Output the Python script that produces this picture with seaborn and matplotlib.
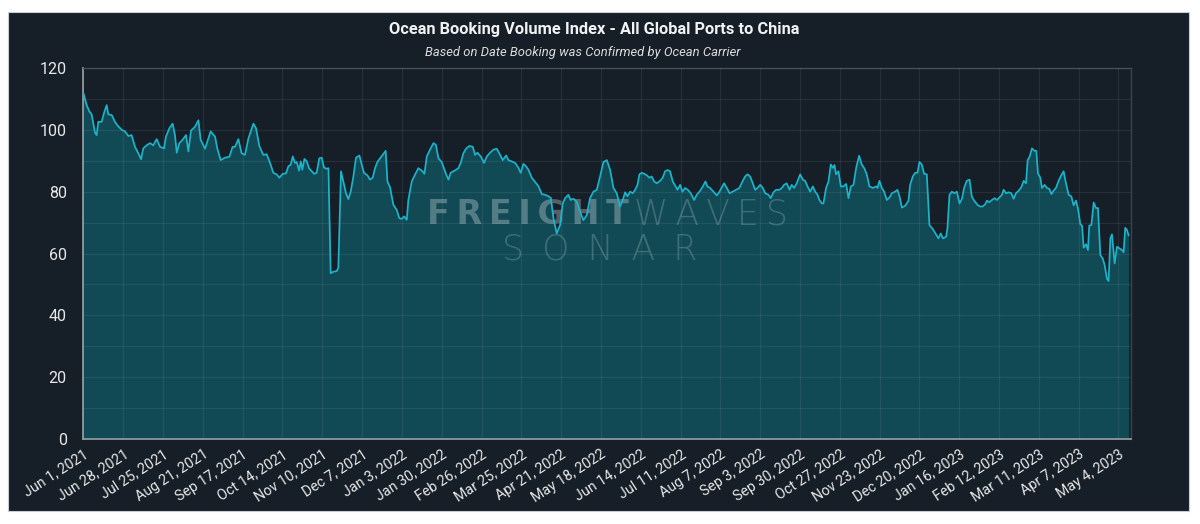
import pandas as pd
import seaborn as sns
import matplotlib.pyplot as plt
from matplotlib.patches import Rectangle
from matplotlib.ticker import MultipleLocator

# -------- data (days after Jun 1, 2021 -> index value) --------
start_date = "2021-06-01"

day_offsets = [
    0.0, 2.2, 4.0, 5.6, 7.9, 9.0, 10.1, 12.4, 14.0, 15.8, 16.9, 19.2, 21.4, 23.0, 26.0, 28.2,
    30.5, 32.7, 35.0, 37.3, 39.1, 40.6, 42.9, 45.2, 47.4, 49.7, 52.0, 54.7, 56.0, 58.3, 60.5,
    62.1, 63.3, 65.1, 67.3, 69.6, 71.2, 73.0, 75.7, 78.0, 79.5, 82.5, 86.3, 89.3, 90.8, 93.1,
    96.0, 99.0, 101.2, 102.8, 105.1, 107.3, 109.6, 111.9, 115.3, 117.1, 119.3, 122.0,
    124.3, 126.6, 128.8, 131.1, 132.9, 135.2, 137.4, 139.0, 140.6, 142.0, 143.5, 144.7, 146.3,
    147.4, 148.5, 149.9, 151.5, 153.0, 154.9, 156.4, 158.2, 160.0, 161.6, 163.2, 165.0, 166.2,
    167.7, 169.5, 171.8, 172.9, 174.7, 176.3, 178.1, 179.7, 181.3, 183.1, 184.9, 187.2, 188.8,
    190.3, 192.6, 194.4, 196.2, 197.8, 199.4, 201.2, 203.0, 205.0, 206.2, 208.0, 210.2, 212.5,
    214.3, 215.9, 217.5, 219.3, 220.4, 222.7, 225.0, 227.2, 229.5, 231.3, 232.9, 235.1, 237.4,
    239.0, 240.8, 243.0,
    246.0, 247.6, 249.1, 250.9, 252.8, 254.3, 255.9, 257.7, 259.5, 261.8, 264.1, 265.6, 267.2,
    269.5, 271.7, 273.6, 275.8, 278.1, 280.3, 282.1, 284.4, 286.7, 288.3, 290.5, 292.8, 295.0,
    296.6, 298.4, 300.2, 301.8, 304.1, 306.3, 308.6, 310.9, 313.1, 315.4, 317.0, 318.8, 321.0,
    323.3, 325.1, 326.7, 328.9, 330.5, 332.3, 334.6, 336.9, 339.1, 341.4, 343.6, 345.9, 348.2,
    350.4, 352.7, 355.0, 357.2, 359.5, 361.7, 364.0, 365.8,
    367.4, 369.0, 370.8, 372.6, 374.2, 375.8, 377.1, 378.7, 380.3, 382.1, 383.9, 385.5, 387.1,
    388.9, 391.1, 392.9, 394.5, 396.1, 397.9, 399.7, 401.3, 402.9, 404.7, 406.3, 408.1, 409.9,
    411.9, 414.2, 416.0, 418.3, 420.1, 421.9, 423.2, 425.0, 427.3, 429.6, 431.4, 433.0, 434.5,
    436.4, 438.2, 440.4, 442.7, 444.9, 447.2, 448.8, 450.4, 452.2, 454.0, 455.6, 457.2, 459.0,
    460.8, 462.4, 464.6, 466.2, 468.0, 469.8, 472.1, 473.7, 475.2, 477.0, 478.9, 480.4, 482.0,
    483.8, 486.1,
    487.9, 489.5, 491.1, 492.9, 494.7, 496.3, 497.9, 499.2, 500.8, 501.9, 503.7, 505.3, 506.9,
    508.3, 509.4, 510.5, 512.1, 513.7, 515.5, 517.3, 518.9, 520.5, 522.3, 524.1, 526.1, 527.9,
    529.7, 531.3, 533.1, 535.4, 537.7, 538.6, 539.9, 541.5, 543.1, 544.9, 546.7, 548.3, 550.5,
    552.1, 553.5, 555.1, 557.3, 559.6, 560.7, 562.5, 564.1, 565.7, 567.0, 568.6, 570.2, 572.0,
    573.8, 576.1, 578.3, 579.9, 581.5, 582.9, 585.1, 586.0, 587.4, 589.0, 590.6, 592.4, 594.2,
    595.8, 597.3, 599.1, 601.0, 602.5, 604.1,
    606.7, 608.3, 609.9, 611.7, 612.8, 614.4, 616.2, 618.0, 619.6, 621.2, 623.0, 624.1, 625.7,
    627.5, 629.3, 630.9, 632.5, 634.3, 636.1, 637.7, 639.3, 640.4, 641.8, 643.3, 645.1, 646.3,
    647.4, 649.0, 650.1, 651.9, 653.5, 655.1, 656.5, 658.0, 659.6, 661.4, 663.2, 664.8, 666.4,
    668.2, 670.0, 671.6, 673.2, 674.5, 676.1, 677.3, 678.4, 680.0, 681.3, 682.2, 683.6, 685.2,
    686.7, 688.1, 689.7, 691.3, 692.6, 694.2, 695.3, 696.5, 697.6, 699.4, 701.0, 702.6, 704.4,
    705.5, 706.6, 707.8, 708.9,
]

index_values = [
    112.0, 108.0, 106.0, 105.0, 99.0, 98.3, 102.6, 102.6, 105.5, 108.0, 105.0, 104.8, 102.6, 101.5, 100.0, 99.5,
    98.0, 98.3, 94.5, 92.4, 90.5, 94.0, 95.0, 95.7, 95.0, 97.0, 94.5, 94.0, 97.8, 100.5, 102.0,
    98.3, 92.6, 95.7, 96.8, 98.3, 93.0, 99.8, 101.0, 103.1, 96.8, 93.9, 99.5, 97.8, 94.0, 90.2,
    91.0, 91.3, 94.5, 94.5, 97.0, 92.4, 91.9, 97.2, 102.0, 100.5, 94.8, 91.9,
    92.1, 89.3, 86.1, 85.6, 84.5, 85.8, 85.9, 88.2, 88.7, 91.4, 89.3, 89.6, 86.8,
    89.8, 87.1, 90.6, 89.8, 87.6, 86.6, 85.8, 86.1, 90.8, 91.0, 87.8, 87.4, 87.6,
    53.6, 54.1, 54.3, 55.4, 86.6, 83.3, 79.5, 77.6, 80.0, 84.9, 91.0, 91.7, 88.7,
    86.1, 85.3, 83.9, 84.5, 87.6, 89.6, 90.8, 91.9, 93.2, 83.3, 81.4, 75.8, 74.1,
    71.4, 71.2, 72.0, 70.9, 77.3, 83.3, 85.6, 87.6, 86.8, 85.8, 91.4, 93.6, 95.7,
    95.2, 90.8, 89.6,
    85.6, 83.9, 86.1, 86.6, 87.1, 87.6, 89.3, 92.4, 93.9, 94.8, 94.5, 91.9, 92.6,
    91.4, 89.3, 91.4, 92.6, 93.6, 93.9, 92.4, 90.2, 91.7, 90.2, 89.8, 89.3, 87.8,
    86.1, 89.0, 88.2, 87.1, 84.5, 83.2, 81.8, 79.2, 79.0, 78.5, 78.0, 71.4, 66.5,
    69.2, 76.2, 77.9, 79.0, 77.3, 77.7, 76.8, 73.5, 70.8, 72.4, 77.9, 80.0, 80.6,
    84.9, 89.6, 90.2, 87.1, 81.2, 79.5, 75.2, 77.3,
    79.8, 78.5, 80.0, 79.5, 80.6, 82.2, 85.6, 86.1, 85.8, 85.3, 84.5, 84.9, 83.3,
    82.7, 83.5, 84.5, 86.6, 87.0, 86.6, 83.3, 82.0, 80.6, 82.2, 80.0, 81.2, 80.6,
    79.5, 77.3, 79.0, 80.3, 81.7, 83.3, 81.7, 81.2, 80.0, 78.8, 80.0, 81.4, 82.7,
    81.2, 79.5, 80.0, 80.6, 81.2, 83.5, 84.9, 85.6, 84.9, 82.7, 80.6, 81.2, 82.2,
    81.2, 79.5, 79.0, 77.9, 79.8, 80.6, 80.6, 81.2, 82.2, 82.7, 80.6, 82.2, 81.2,
    82.7, 85.6,
    83.9, 83.5, 81.7, 80.0, 81.7, 80.0, 79.0, 77.3, 76.2, 76.2, 81.2, 83.2, 88.8,
    87.7, 88.6, 85.6, 86.6, 81.7, 81.7, 82.5, 77.9, 81.7, 82.2, 87.7, 91.6, 88.8,
    87.5, 85.6, 81.7, 81.2, 81.7, 81.2, 83.5, 81.2, 80.0, 77.3, 78.1, 79.5, 80.0,
    80.6, 78.5, 74.9, 75.4, 77.1, 82.2, 84.9, 86.1, 86.1, 89.6, 88.8, 85.8, 85.6,
    69.2, 67.9, 66.2, 64.9, 66.5, 64.9, 65.4, 68.1, 79.0, 80.0, 79.5, 80.0, 76.2,
    77.6, 81.2, 83.5, 83.9, 78.5, 77.1,
    75.6, 75.2, 75.2, 76.0, 77.1, 76.6, 77.3, 77.9, 77.3, 78.1, 79.0, 80.6, 79.5,
    79.8, 79.5, 77.7, 79.5, 80.3, 81.4, 83.5, 82.7, 90.2, 91.4, 94.0, 93.2, 93.2,
    85.9, 84.5, 81.2, 82.2, 81.2, 80.9, 79.2, 80.3, 81.2, 83.5, 85.3, 86.6, 82.7,
    79.0, 78.5, 75.6, 77.1, 74.7, 69.5, 69.0, 61.9, 63.0, 61.1, 69.0, 69.2, 76.5,
    74.7, 74.7, 59.5, 58.4, 56.3, 51.8, 51.1, 64.9, 66.2, 56.8, 62.2, 61.7, 61.1,
    60.4, 68.3, 67.6, 65.8,
]

tick_labels = [
    "Jun 1, 2021", "Jun 28, 2021", "Jul 25, 2021", "Aug 21, 2021", "Sep 17, 2021",
    "Oct 14, 2021", "Nov 10, 2021", "Dec 7, 2021", "Jan 3, 2022", "Jan 30, 2022",
    "Feb 26, 2022", "Mar 25, 2022", "Apr 21, 2022", "May 18, 2022", "Jun 14, 2022",
    "Jul 11, 2022", "Aug 7, 2022", "Sep 3, 2022", "Sep 30, 2022", "Oct 27, 2022",
    "Nov 23, 2022", "Dec 20, 2022", "Jan 16, 2023", "Feb 12, 2023", "Mar 11, 2023",
    "Apr 7, 2023", "May 4, 2023",
]

title = "Ocean Booking Volume Index - All Global Ports to China"
subtitle = "Based on Date Booking was Confirmed by Ocean Carrier"

BG = "#161f28"
FILL = "#114a55"
LINE = "#1bb4cb"
TXT = "#e8e8e8"

df = pd.DataFrame({
    "date": pd.Timestamp(start_date) + pd.to_timedelta(day_offsets, unit="D"),
    "index": index_values,
})
tick_dates = pd.to_datetime(tick_labels, format="%b %d, %Y")

# -------- plot --------
sns.set_theme(style="dark")
plt.rcParams["font.family"] = ["Roboto", "DejaVu Sans"]

fig = plt.figure(figsize=(12, 5.24), dpi=100, facecolor="white")
fig.patches.append(Rectangle((8 / 1200, 1 - 511 / 524), 1181 / 1200, 499 / 524,
                             transform=fig.transFigure, facecolor=BG,
                             edgecolor="#c9cdd0", lw=0.8, zorder=-5))
ax = fig.add_axes([0.0695, 0.1622, 0.873, 0.708])
ax.set_facecolor(BG)

ax.fill_between(df["date"], df["index"], 0, color=FILL, lw=0, zorder=1)
sns.lineplot(data=df, x="date", y="index", ax=ax, color=LINE, linewidth=1.25, zorder=4)

ax.set_xlim(pd.Timestamp(start_date), pd.Timestamp(start_date) + pd.Timedelta(days=710.5))
ax.set_ylim(0, 120)
ax.yaxis.set_major_locator(MultipleLocator(20))
ax.yaxis.set_minor_locator(MultipleLocator(10))
ax.set_xticks(tick_dates)
ax.set_xticklabels(tick_labels, rotation=33, ha="right", rotation_mode="anchor")

ax.set_axisbelow(False)
ax.grid(True, which="both", color="white", alpha=0.07, lw=0.9)
ax.tick_params(axis="both", which="both", length=0, colors=TXT)
ax.tick_params(axis="x", labelsize=10.3, pad=6)
ax.tick_params(axis="y", labelsize=11.5, pad=12)
ax.set_xlabel("")
ax.set_ylabel("")

for side in ["left", "bottom"]:
    ax.spines[side].set_color("#8d979c")
    ax.spines[side].set_linewidth(1.3)
for side in ["top", "right"]:
    ax.spines[side].set_color("#3a444d")
    ax.spines[side].set_linewidth(1.0)

# watermark
wm = "#d5dde0"
ax.text(0.521, 0.605, "F\u2009R\u2009E\u2009I\u2009G\u2009H\u2009T", transform=ax.transAxes,
        ha="right", va="center", fontsize=24, fontweight="bold", family="DejaVu Sans",
        color=wm, alpha=0.34, zorder=3)
ax.text(0.526, 0.605, "W\u2009A\u2009V\u2009E\u2009S", transform=ax.transAxes, ha="left", va="center",
        fontsize=25, fontweight="light", family="DejaVu Sans", color=wm, alpha=0.24, zorder=3)
ax.text(0.493, 0.51, "S \u2009O \u2009N \u2009A \u2009R", transform=ax.transAxes, ha="center", va="center",
        fontsize=25, fontweight="light", family="DejaVu Sans", color=wm, alpha=0.24, zorder=3)

fig.text(0.495, 0.944, title, ha="center", va="center", fontsize=11.8,
         fontweight="bold", color="#f2f2f2")
fig.text(0.486, 0.9, subtitle, ha="center", va="center", fontsize=9.4,
         style="italic", color="#dcdcdc")

fig.savefig("out.png", dpi=100, facecolor="white")
